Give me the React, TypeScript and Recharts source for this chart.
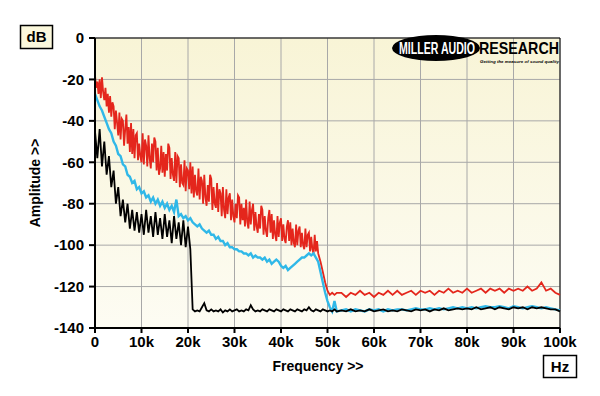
import React from 'react';
import {
    LineChart,
    Line,
    XAxis,
    YAxis,
    CartesianGrid,
    ReferenceLine,
} from 'recharts';

// frequency in kHz (shared by cyan and black traces)
const freq = [
    0, 0.5, 1, 1.5, 2, 2.5, 3, 3.5, 4, 4.5,
    5, 5.5, 6, 6.5, 7, 7.5, 8, 8.5, 9, 9.5,
    10, 10.5, 11, 11.5, 12, 12.5, 13, 13.5, 14, 14.5,
    15, 15.5, 16, 16.5, 17, 17.5, 18, 18.5, 19, 19.5,
    20, 20.5, 21, 21.5, 22, 22.5, 23, 23.5, 24, 24.5,
    25, 25.5, 26, 26.5, 27, 27.5, 28, 28.5, 29, 29.5,
    30, 30.5, 31, 31.5, 32, 32.5, 33, 33.5, 34, 34.5,
    35, 35.5, 36, 36.5, 37, 37.5, 38, 38.5, 39, 39.5,
    40, 40.5, 41, 41.5, 42, 42.5, 43, 43.5, 44, 44.5,
    45, 45.5, 46, 46.5, 47, 47.5, 48, 48.5, 49, 49.5,
    50, 50.5, 51, 51.5, 52,
    53, 54, 55, 56, 57, 58, 59, 60, 61, 62,
    63, 64, 65, 66, 67, 68, 69, 70, 71, 72,
    73, 74, 75, 76, 77, 78, 79, 80, 81, 82,
    83, 84, 85, 86, 87, 88, 89, 90, 91, 92,
    93, 94, 95, 96, 97, 98, 99, 100,
];

// red trace is noisier, read at a finer step below 48k
const redFreq = [
    0, 0.25, 0.5, 0.75, 1, 1.25, 1.5, 1.75,
    2, 2.25, 2.5, 2.75, 3, 3.25, 3.5, 3.75,
    4, 4.25, 4.5, 4.75, 5, 5.25, 5.5, 5.75,
    6, 6.25, 6.5, 6.75, 7, 7.25, 7.5, 7.75,
    8, 8.25, 8.5, 8.75, 9, 9.25, 9.5, 9.75,
    10, 10.25, 10.5, 10.75, 11, 11.25, 11.5, 11.75,
    12, 12.25, 12.5, 12.75, 13, 13.25, 13.5, 13.75,
    14, 14.25, 14.5, 14.75, 15, 15.25, 15.5, 15.75,
    16, 16.25, 16.5, 16.75, 17, 17.25, 17.5, 17.75,
    18, 18.25, 18.5, 18.75, 19, 19.25, 19.5, 19.75,
    20, 20.25, 20.5, 20.75, 21, 21.25, 21.5, 21.75,
    22, 22.25, 22.5, 22.75, 23, 23.25, 23.5, 23.75,
    24, 24.25, 24.5, 24.75, 25, 25.25, 25.5, 25.75,
    26, 26.25, 26.5, 26.75, 27, 27.25, 27.5, 27.75,
    28, 28.25, 28.5, 28.75, 29, 29.25, 29.5, 29.75,
    30, 30.25, 30.5, 30.75, 31, 31.25, 31.5, 31.75,
    32, 32.25, 32.5, 32.75, 33, 33.25, 33.5, 33.75,
    34, 34.25, 34.5, 34.75, 35, 35.25, 35.5, 35.75,
    36, 36.25, 36.5, 36.75, 37, 37.25, 37.5, 37.75,
    38, 38.25, 38.5, 38.75, 39, 39.25, 39.5, 39.75,
    40, 40.25, 40.5, 40.75, 41, 41.25, 41.5, 41.75,
    42, 42.25, 42.5, 42.75, 43, 43.25, 43.5, 43.75,
    44, 44.25, 44.5, 44.75, 45, 45.25, 45.5, 45.75,
    46, 46.25, 46.5, 46.75, 47, 47.25, 47.5, 47.75,
    48, 48.5, 49, 49.5, 50, 50.5, 51, 51.5, 52,
    53, 54, 55, 56, 57, 58, 59, 60, 61, 62,
    63, 64, 65, 66, 67, 68, 69, 70, 71, 72,
    73, 74, 75, 76, 77, 78, 79, 80, 81, 82,
    83, 84, 85, 86, 87, 88, 89, 90, 91, 92,
    93, 94, 95, 96, 97, 98, 99, 100,
];

const redSeries = [
    -18, -24, -21, -27, -20, -29, -19, -26,
    -30, -24, -33, -27, -36, -28, -38, -31,
    -33, -44, -35, -41, -47, -36, -49, -39,
    -40, -52, -44, -37, -51, -43, -55, -41,
    -56, -44, -58, -47, -46, -59, -51, -57,
    -60, -46, -61, -49, -52, -62, -47, -58,
    -63, -51, -60, -48, -50, -64, -53, -66,
    -63, -52, -65, -55, -67, -56, -64, -51,
    -53, -68, -58, -66, -69, -55, -70, -57,
    -58, -72, -61, -70, -71, -59, -74, -63,
    -64, -73, -60, -75, -62, -77, -66, -74,
    -76, -63, -78, -67, -69, -80, -66, -77,
    -81, -71, -79, -66, -68, -83, -72, -80,
    -82, -70, -84, -73, -75, -86, -72, -83,
    -87, -73, -85, -77, -75, -88, -78, -86,
    -89, -80, -87, -76, -77, -90, -80, -88,
    -82, -91, -78, -89, -92, -79, -90, -83,
    -80, -93, -84, -91, -94, -85, -92, -81,
    -83, -95, -86, -93, -96, -87, -83, -94,
    -85, -97, -88, -95, -98, -86, -96, -89,
    -87, -98, -90, -97, -99, -91, -88, -98,
    -89, -100, -92, -99, -101, -90, -100, -93,
    -91, -101, -94, -100, -102, -92, -101, -95,
    -94, -103, -96, -102, -104, -95, -103, -98,
    -104, -108, -113, -118, -122, -124, -123, -124, -123,
    -123, -125, -123, -124, -122, -124, -123, -125, -123, -124,
    -122, -124, -122, -124, -123, -122, -124, -122, -123, -122,
    -124, -122, -123, -121, -123, -122, -123, -121, -123, -122,
    -121, -123, -121, -122, -121, -123, -121, -122, -121, -122,
    -120, -122, -121, -118, -122, -121, -123, -124,
];

const cyanSeries = [
    -27, -30, -33, -35, -38, -41, -44, -46, -50, -52,
    -56, -57, -61, -62, -66, -67, -70, -69, -73, -72,
    -75, -74, -77, -76, -79, -77, -80, -78, -81, -79,
    -82, -80, -83, -81, -84, -78, -86, -85, -87, -86,
    -88, -87, -89, -90, -91, -90, -92, -93, -94, -93,
    -95, -95, -97, -96, -98, -98, -100, -99, -101, -101,
    -102, -102, -103, -103, -104, -104, -105, -104, -106, -105,
    -106, -106, -107, -106, -108, -107, -109, -108, -107, -108,
    -110, -111, -110, -112, -111, -110, -109, -108, -107, -106,
    -106, -105, -104, -105, -104, -106, -108, -113, -118, -123,
    -127, -130, -132, -127, -132,
    -131.5, -131, -132, -131, -131.5, -132, -131, -131.5, -131, -132,
    -131, -131.5, -131, -131, -131.5, -131, -130.5, -131, -131, -130.5,
    -131, -130.5, -131, -130.5, -130, -130.5, -130, -130.5, -130, -130.5,
    -130, -129.5, -130, -130, -129.5, -130, -130.5, -129.5, -130, -130.5,
    -130, -129.5, -130, -130.5, -130, -130.5, -131, -131.5,
];

const blackSeries = [
    -45, -58, -44, -62, -50, -66, -57, -72, -64, -80,
    -72, -86, -78, -89, -80, -92, -83, -93, -84, -94,
    -85, -95, -83, -94, -86, -96, -84, -95, -87, -97,
    -85, -96, -88, -99, -86, -97, -89, -100, -88, -101,
    -91, -102, -131, -132, -131.5, -132, -130, -128, -131.5, -132,
    -131, -132, -131.5, -132, -131, -132.5, -131.5, -132, -131, -132,
    -131.5, -131, -132, -131.5, -132, -131, -131.5, -129, -131, -132,
    -131.5, -132, -131, -131.5, -132, -131, -131.5, -132, -131, -131.5,
    -132, -131, -131.5, -132, -131, -131.5, -132, -131, -131.5, -132,
    -131, -131.5, -130, -131.5, -132, -131, -131.5, -132, -131, -131.5,
    -132, -131.5, -132, -131, -132,
    -131.5, -132, -131, -132, -131.5, -132, -131, -132, -131.5, -131,
    -132, -131.5, -132, -131, -131.5, -132, -131, -131.5, -131, -132,
    -131, -131.5, -130.5, -131.5, -131, -130.5, -131, -130.5, -131, -130,
    -131, -130.5, -130, -131, -130, -130.5, -131, -130, -130.5, -130,
    -131, -130, -130.5, -130, -130.5, -131, -131, -132,
];

const xTicks = [0, 10, 20, 30, 40, 50, 60, 70, 80, 90, 100];
const yTicks = [-140, -120, -100, -80, -60, -40, -20, 0];

const chartData = freq.map((f, i) => ({
    f,
    cyan: cyanSeries[i],
    black: blackSeries[i],
}));
const redData = redFreq.map((f, i) => ({ f, red: redSeries[i] }));

const FONT = 'Arial, "Liberation Sans", sans-serif';
const tickStyle = { fontSize: 15, fontWeight: 700, fill: '#000', fontFamily: FONT };

export default function App() {
    return (
        <div style={{ position: 'relative', width: 600, height: 396, background: '#fff' }}>
            <style>{`body{margin:0}`}</style>
            <LineChart
                width={600}
                height={396}
                data={chartData}
                margin={{ top: 38, right: 40, bottom: 0, left: 0 }}
            >
                <defs>
                    <linearGradient id="plotBg" x1="0" y1="0" x2="0" y2="1">
                        <stop offset="0%" stopColor="#f8f4d6" />
                        <stop offset="100%" stopColor="#fdfcf3" />
                    </linearGradient>
                </defs>
                <CartesianGrid
                    stroke="#a8a8a8"
                    strokeWidth={1}
                    fill="url(#plotBg)"
                    fillOpacity={1}
                />
                <XAxis
                    type="number"
                    dataKey="f"
                    domain={[0, 100]}
                    ticks={xTicks}
                    tickFormatter={(v) => (v === 0 ? '0' : `${v}k`)}
                    height={68}
                    stroke="#000"
                    strokeWidth={2}
                    tickSize={5}
                    tickMargin={3}
                    tick={tickStyle}
                    interval={0}
                    allowDuplicatedCategory={false}
                />
                <YAxis
                    type="number"
                    domain={[-140, 0]}
                    ticks={yTicks}
                    width={95}
                    stroke="#000"
                    strokeWidth={2}
                    tickSize={6}
                    tickMargin={5}
                    tick={tickStyle}
                    interval={0}
                />
                <ReferenceLine y={0} stroke="#000" strokeWidth={1} />
                <ReferenceLine x={100} stroke="#000" strokeWidth={1} />
                <Line
                    data={redData}
                    type="linear"
                    dataKey="red"
                    stroke="#e4261c"
                    strokeWidth={1.8}
                    dot={false}
                    isAnimationActive={false}
                />
                <Line
                    type="linear"
                    dataKey="cyan"
                    stroke="#30b8e8"
                    strokeWidth={2.4}
                    dot={false}
                    isAnimationActive={false}
                />
                <Line
                    type="linear"
                    dataKey="black"
                    stroke="#000"
                    strokeWidth={1.8}
                    dot={false}
                    isAnimationActive={false}
                />
            </LineChart>
            <svg
                width={600}
                height={396}
                style={{ position: 'absolute', left: 0, top: 0, pointerEvents: 'none' }}
            >
                {/* dB unit box */}
                <rect x={20.5} y={25.5} width={32} height={23} fill="#fbf8dc" stroke="#000" strokeWidth={1.5} />
                <text x={36.5} y={42} textAnchor="middle" fontFamily={FONT} fontWeight={700} fontSize={15}>dB</text>
                {/* Hz unit box */}
                <rect x={543.5} y={355.5} width={33} height={22} fill="#fff" stroke="#000" strokeWidth={1.5} />
                <text x={560} y={372} textAnchor="middle" fontFamily={FONT} fontWeight={700} fontSize={15}>Hz</text>
                {/* axis titles */}
                <text
                    x={0}
                    y={0}
                    transform="translate(40,183) rotate(-90)"
                    textAnchor="middle"
                    fontFamily={FONT}
                    fontWeight={700}
                    fontSize={14}
                >
                    Amplitude &gt;&gt;
                </text>
                <text x={318} y={371} textAnchor="middle" fontFamily={FONT} fontWeight={700} fontSize={14}>
                    Frequency &gt;&gt;
                </text>
                {/* logo */}
                <ellipse cx={436} cy={48} rx={44} ry={13} fill="#000" />
                <text
                    transform="translate(399,54) scale(1,1.5)"
                    fill="#fff"
                    fontFamily={FONT}
                    fontWeight={700}
                    fontSize={10.5}
                    textLength={76}
                    lengthAdjust="spacingAndGlyphs"
                >
                    MILLER AUDIO
                </text>
                <text
                    transform="translate(479,54) scale(1,1.15)"
                    fill="#000"
                    fontFamily={FONT}
                    fontWeight={700}
                    fontSize={14}
                    textLength={80}
                    lengthAdjust="spacingAndGlyphs"
                >
                    RESEARCH
                </text>
                <text
                    x={480}
                    y={62.5}
                    fill="#000"
                    fontFamily={FONT}
                    fontWeight={700}
                    fontStyle="italic"
                    fontSize={4.4}
                    textLength={79}
                    lengthAdjust="spacingAndGlyphs"
                >
                    Getting the measure of sound quality
                </text>
            </svg>
        </div>
    );
}
